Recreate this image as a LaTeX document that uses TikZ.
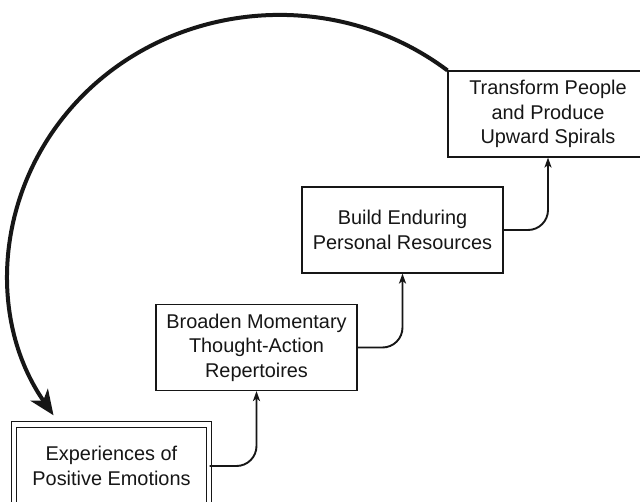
\documentclass[tikz,border=0pt]{standalone}
\usepackage{fontspec}
\setmainfont{Liberation Sans}
\usetikzlibrary{arrows.meta}
\definecolor{ink}{HTML}{161616}
\begin{document}
\begin{tikzpicture}[x=1pt,y=1pt,
  stagebox/.style={draw=ink, line width=1.1pt, fill=white, align=center,
    inner sep=0pt, minimum width=201pt, minimum height=86pt,
    font=\fontsize{19.9}{24.5}\selectfont, text=ink},
  startbox/.style={stagebox, double=white, double distance=4.8pt,
    line width=1pt, minimum width=195pt, minimum height=83pt},
  link/.style={draw=ink, line width=1.9pt, rounded corners=20pt,
    -{Stealth[length=10pt,width=7pt,inset=2.5pt]}},
  loop/.style={draw=ink, line width=4pt,
    -{Stealth[length=25pt,width=21pt,inset=7pt]}}]
\useasboundingbox (0,0) rectangle (640,501);
\clip (0,0) rectangle (640,501);
\fill[white] (0,0) rectangle (640,501);

% the four stages, rising left to right
\node[startbox] (exp) at (111.5,35) {Experiences of\\Positive Emotions};
\node[stagebox] (broad) at (256.5,153.5) {Broaden Momentary\\Thought-Action\\Repertoires};
\node[stagebox] (build) at (402.5,271) {Build Enduring\\Personal Resources};
\node[stagebox, minimum width=200pt] (trans) at (548,387) {Transform People\\and Produce\\Upward Spirals};

% step connectors
\draw[link] (exp.east) -| (broad.south);
\draw[link] (broad.east) -| (build.south);
\draw[link] (build.east) -| (trans.south);

% feedback loop back to the start
\draw[loop] (trans.north west) arc[start angle=51.7, end angle=213.5,
  x radius=271pt, y radius=258pt];
\end{tikzpicture}
\end{document}
